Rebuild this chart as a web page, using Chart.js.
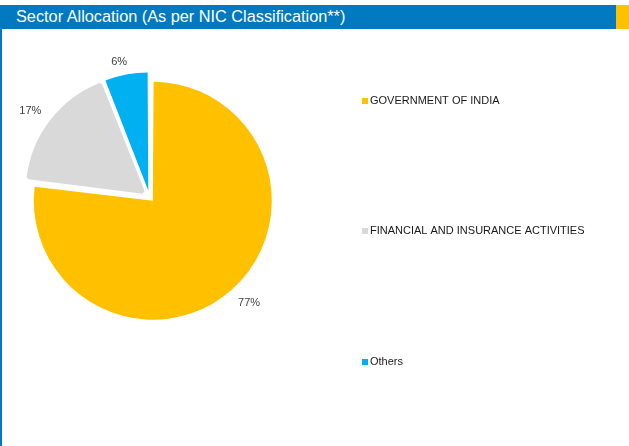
<!DOCTYPE html>
<html>
<head>
<meta charset="utf-8">
<script src="https://cdn.jsdelivr.net/npm/chart.js@4/dist/chart.umd.min.js"></script>
<style>
  html, body { margin: 0; padding: 0; background: #ffffff; }
  body { width: 629px; height: 446px; position: relative; overflow: hidden; }
  #hdr { position: absolute; left: 0; top: 5px; width: 616px; height: 24px; background: #0079C1; }
  #hdr span { position: absolute; left: 16px; top: 2px; color: #ffffff; font-family: "Liberation Sans", Arial, sans-serif; font-size: 16.3px; line-height: 19px; white-space: nowrap; }
  #hdrY { position: absolute; left: 616px; top: 5px; width: 13px; height: 24px; background: #FFC000; }
  #vline { position: absolute; left: 0; top: 29px; width: 2px; height: 417px; background: #0079C1; }
  #wrap { position: absolute; left: 0; top: 0; width: 629px; height: 446px; }
</style>
</head>
<body>
<div id="wrap"><canvas id="c"></canvas></div>
<div id="hdr"><span>Sector Allocation (As per NIC Classification**)</span></div>
<div id="hdrY"></div>
<div id="vline"></div>
<script>
const categories = ["GOVERNMENT OF INDIA", "FINANCIAL AND INSURANCE ACTIVITIES", "Others"];
const values = [77, 17, 6];
const percentLabels = ["77%", "17%", "6%"];
const colors = ["#FFC000", "#D9D9D9", "#00B0F0"];
const sliceOffsets = [20, 34, 26];
const sliceBorders = [0, 4, 0];

const outsideLabels = {
  id: 'outsideLabels',
  afterDatasetsDraw(chart) {
    const ctx = chart.ctx;
    const meta = chart.getDatasetMeta(0);
    ctx.save();
    ctx.font = '11px "Liberation Sans", Arial, sans-serif';
    ctx.fillStyle = '#404040';
    ctx.textAlign = 'center';
    ctx.textBaseline = 'middle';
    meta.data.forEach((arc, i) => {
      const p = arc.getProps(['x', 'y', 'startAngle', 'endAngle', 'outerRadius'], true);
      const mid = (p.startAngle + p.endAngle) / 2 - 0.033;
      const cx = Math.cos(mid), sy = Math.sin(mid);
      const d = p.outerRadius + 21 + 15 * Math.abs(cx);
      ctx.fillText(percentLabels[i], p.x + cx * d, p.y + sy * d);
    });
    ctx.restore();
  }
};

const sideLegend = {
  id: 'sideLegend',
  afterDraw(chart) {
    const ctx = chart.ctx;
    ctx.save();
    ctx.font = '11px "Liberation Sans", Arial, sans-serif';
    ctx.textAlign = 'left';
    ctx.textBaseline = 'middle';
    categories.forEach((name, i) => {
      const y = 100.5 + i * 130.6;
      ctx.fillStyle = colors[i];
      ctx.fillRect(362, Math.round(y - 3), 6, 6);
      ctx.fillStyle = '#1a1a1a';
      ctx.fillText(name, 370, y);
    });
    ctx.restore();
  }
};

new Chart(document.getElementById('c'), {
  type: 'pie',
  data: {
    labels: categories,
    datasets: [{
      data: values,
      backgroundColor: colors,
      borderColor: colors,
      borderWidth: sliceBorders,
      offset: sliceOffsets,
      hoverOffset: 0
    }]
  },
  options: {
    responsive: true,
    maintainAspectRatio: false,
    animation: false,
    radius: 114,
    layout: { padding: { left: 21, right: 351, top: 69, bottom: 121 } },
    plugins: { legend: { display: false }, tooltip: { enabled: false } }
  },
  plugins: [outsideLabels, sideLegend]
});
</script>
</body>
</html>
